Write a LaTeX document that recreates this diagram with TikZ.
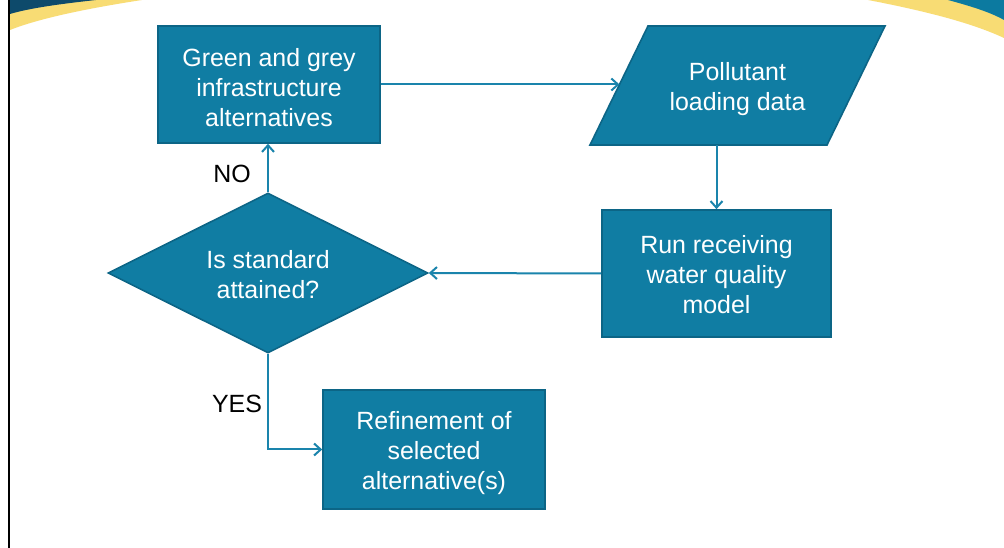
\documentclass[tikz,border=0pt]{standalone}
\usepackage{fontspec}
\setmainfont{Liberation Sans}
\usetikzlibrary{shapes.geometric,arrows.meta}
\definecolor{boxfill}{HTML}{107DA3}
\definecolor{boxedge}{HTML}{0C6586}
\definecolor{linec}{HTML}{1A84AC}
\definecolor{navy}{HTML}{0D4A6B}
\definecolor{teal2}{HTML}{0C7AA0}
\definecolor{gold}{HTML}{F8DC74}
\newcommand\mytopstrut[1]{\rule{0pt}{#1}}
\tikzset{
  txt/.style={font=\fontsize{18.7}{22.5}\selectfont},
  shapefill/.style={fill=boxfill, draw=boxedge, line width=1.2pt},
  boxnode/.style={txt, rectangle, shapefill, text=white, align=center, inner sep=2pt},
  plaintext/.style={txt, text=white, align=center, inner sep=2pt},
  conn/.style={draw=linec, line width=1.5pt, -{Straight Barb[length=5pt,width=9pt,line width=1.5pt]}},
  lbl/.style={txt, text=black}
}
\begin{document}
\begin{tikzpicture}[x=0.75pt,y=-0.75pt]
\useasboundingbox (0,0) rectangle (1004,548);
\fill[white] (0,0) rectangle (1004,548);
% corner decorations
\fill[gold] (10,0) -- (142,0) .. controls (90,8) and (40,18) .. (10,30) -- cycle;
\fill[navy] (10,0) -- (96,0) .. controls (60,4) and (30,8) .. (10,14) -- cycle;
\fill[gold] (868,0) .. controls (920,10) and (970,22) .. (1004,38) -- (1004,0) -- cycle;
\fill[teal2] (948,0) .. controls (970,6) and (990,12) .. (1004,20) -- (1004,0) -- cycle;
\draw[black, line width=2.2pt] (9,0) -- (9,548);
% parallelogram (input data)
\path[shapefill] (648,26) -- (885,26) -- (827,145) -- (590,145) -- cycle;
\coordinate (plw) at (619.5,84.5);
\coordinate (pls) at (716.5,145);
% nodes
\node[boxnode, minimum width=166.5pt, minimum height=87.75pt] (b1) at (269,84.5) {\mytopstrut{18pt}Green and grey\\infrastructure\\alternatives};
\node[plaintext] (pl) at (737.5,85.5) {\mytopstrut{19.5pt}Pollutant\\loading data};
\node[boxnode, minimum width=171.75pt, minimum height=95.25pt] (b3) at (716.5,273.5) {\mytopstrut{15pt}Run receiving\\water quality\\model};
\node[boxnode, diamond, aspect=2, inner sep=0pt, minimum width=240pt, minimum height=120pt] (dia) at (268,273) {\mytopstrut{16.5pt}Is standard\\attained?};
\node[boxnode, minimum width=166.5pt, minimum height=89.25pt] (ref) at (434,449.5) {\mytopstrut{19.5pt}Refinement of\\selected\\alternative(s)};
\node[lbl] (no) at (232,174) {NO};
\node[lbl] (yes) at (237,404) {YES};
% connectors
\draw[conn] (b1.east) -- (b1.east -| plw);
\draw[conn] (pls) -- (b3.north);
\draw[conn] (b3.west) -- (dia.east);
\draw[conn] (dia.north) -- (dia.north |- b1.south);
\draw[conn] (dia.south) |- (ref.west);
\end{tikzpicture}
\end{document}
